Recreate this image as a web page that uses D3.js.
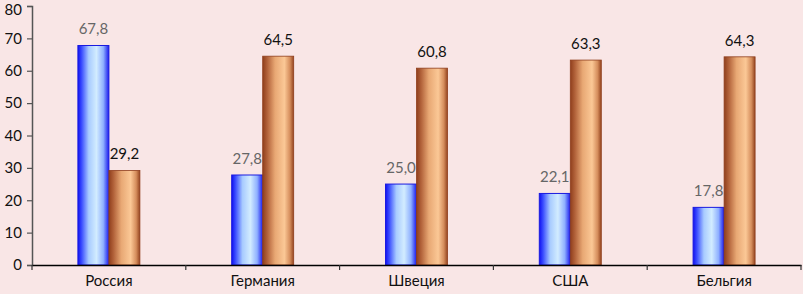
<!DOCTYPE html>
<html><head><meta charset="utf-8">
<script src="https://cdn.jsdelivr.net/npm/d3@7"></script>
<style>html,body{margin:0;padding:0;background:#f9e6e6;}svg{display:block;}</style>
</head><body><svg id="c" width="803" height="294"></svg>
<script>
const categories = ["Россия","Германия","Швеция","США","Бельгия"];
const seriesBlue = [67.8, 27.8, 25.0, 22.1, 17.8];
const seriesBrown = [29.2, 64.5, 60.8, 63.3, 64.3];
const yTicks = [0,10,20,30,40,50,60,70,80];

const svg = d3.select("#c");
const font = "Lato, 'Open Sans', 'Liberation Sans', sans-serif";
svg.append("rect").attr("width",803).attr("height",294).attr("fill","#f9e6e6");

const defs = svg.append("defs");
const gb = defs.append("linearGradient").attr("id","gBlue").attr("x1","0").attr("x2","1").attr("y1","0").attr("y2","0");
[[0,"#1010f0"],[0.12,"#3a4cff"],[0.35,"#a8cbff"],[0.6,"#d2ecff"],[0.82,"#8fb0ff"],[1,"#1a1aee"]].forEach(([o,c])=>gb.append("stop").attr("offset",o).attr("stop-color",c));
const gr = defs.append("linearGradient").attr("id","gBrown").attr("x1","0").attr("x2","1").attr("y1","0").attr("y2","0");
[[0,"#8f3e1c"],[0.15,"#b2623a"],[0.4,"#e8a874"],[0.7,"#fbc896"],[0.88,"#d58d5c"],[1,"#94441f"]].forEach(([o,c])=>gr.append("stop").attr("offset",o).attr("stop-color",c));

const x = d3.scaleBand().domain(categories).range([32,801]).padding(0);
const y = d3.scaleLinear().domain([0,80]).range([265,6]);
const bw = 31;

// y axis
const ya = svg.append("g").attr("transform","translate(32,0)")
  .call(d3.axisLeft(y).tickValues(yTicks).tickSize(5).tickPadding(5).tickFormat(d3.format("d")));
ya.select(".domain").attr("stroke","#555").attr("stroke-width",1.5);
ya.selectAll(".tick line").attr("stroke","#555").attr("stroke-width",1.2);
ya.selectAll("text").attr("font-family",font).attr("font-size",15).attr("fill","#111");
ya.selectAll(".tick").filter(d=>d===80).select("text").attr("dy","0.55em");

// bars
const g = svg.append("g");
categories.forEach((c,i)=>{
  const cx = x(c) + x.bandwidth()/2;
  g.append("rect").attr("x",cx-bw).attr("y",y(seriesBlue[i])).attr("width",bw).attr("height",y(0)-y(seriesBlue[i]))
    .attr("fill","url(#gBlue)").attr("stroke","#1a1ae0").attr("stroke-width",1);
  g.append("rect").attr("x",cx).attr("y",y(seriesBrown[i])).attr("width",bw).attr("height",y(0)-y(seriesBrown[i]))
    .attr("fill","url(#gBrown)").attr("stroke","#8f3e1c").attr("stroke-width",0.8);
  g.append("text").attr("x",cx-bw/2).attr("y",y(seriesBlue[i])-11).attr("text-anchor","middle")
    .attr("font-family",font).attr("font-size",15).attr("fill","#666")
    .text(d3.format(".1f")(seriesBlue[i]).replace(".",","));
  g.append("text").attr("x",cx+bw/2).attr("y",y(seriesBrown[i])-11).attr("text-anchor","middle")
    .attr("font-family",font).attr("font-size",15).attr("fill","#111")
    .text(d3.format(".1f")(seriesBrown[i]).replace(".",","));
});

// x axis
const xa = svg.append("g").attr("transform","translate(0,265)")
  .call(d3.axisBottom(x).tickSize(0).tickPadding(10));
xa.select(".domain").attr("stroke","#000").attr("stroke-width",1.5);
xa.selectAll("text").attr("font-family",font).attr("font-size",15).attr("fill","#111");
// category boundary ticks
const bounds = categories.map(c=>x(c)).concat([x(categories[categories.length-1])+x.bandwidth()]);
xa.selectAll(".bt").data(bounds).enter().append("line").attr("class","bt")
  .attr("x1",d=>d).attr("x2",d=>d).attr("y1",0).attr("y2",5).attr("stroke","#333").attr("stroke-width",1.2);
</script></body></html>
